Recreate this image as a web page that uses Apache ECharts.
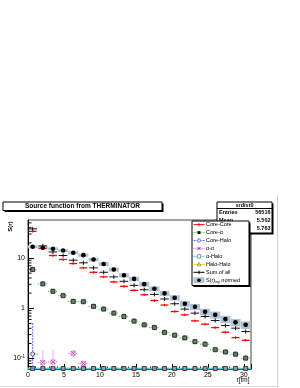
<!DOCTYPE html>
<html><head><meta charset="utf-8">
<script src="https://cdn.jsdelivr.net/npm/echarts@6/dist/echarts.min.js"></script>
<style>html,body{margin:0;padding:0;background:#fff}#c{width:300px;height:388px}</style>
</head><body><div id="c"></div>
<script>
// ---- data ----
const r = [0.65, 2.06, 3.47, 4.88, 6.29, 7.70, 9.11, 10.52, 11.93, 13.34, 14.75, 16.16, 17.57, 18.98, 20.39, 21.80, 23.21, 24.62, 26.03, 27.44, 28.85, 30.26];
const sInp = [16.7, 16.0, 15.3, 14.1, 12.7, 11.4, 9.33, 7.59, 5.89, 4.53, 3.84, 3.02, 2.45, 1.98, 1.62, 1.23, 1.07, 0.85, 0.74, 0.61, 0.525, 0.468];
const sInpErr = [1.1, 1.0, 1.0, 0.95, 0.9, 0.85, 0.75, 0.65, 0.55, 0.45, 0.4, 0.33, 0.28, 0.24, 0.2, 0.16, 0.15, 0.13, 0.12, 0.1, 0.09, 0.08];
const sumAll = [38.0, 17.4, 13.2, 11.2, 9.04, 8.02, 6.37, 5.20, 4.21, 3.44, 2.86, 2.34, 1.89, 1.53, 1.23, 0.964, 0.80, 0.686, 0.57, 0.453, 0.402, 0.344];
const coreCore = [33.9, 15.5, 11.2, 9.33, 7.76, 6.37, 5.20, 4.21, 3.34, 2.73, 2.27, 1.86, 1.43, 1.16, 0.863, 0.741, 0.562, 0.483, 0.413, 0.334, 0.261, 0.231];
const coreAlpha = [5.89, 3.05, 2.17, 1.78, 1.37, 1.35, 1.09, 0.964, 0.80, 0.686, 0.555, 0.468, 0.413, 0.331, 0.291, 0.257, 0.217, 0.193, 0.15, 0.135, 0.122, 0.102];
const coreHalo = [0.123, 0, 0, 0, 0, 0, 0, 0, 0, 0, 0, 0, 0, 0, 0, 0, 0, 0, 0, 0, 0, 0];
const coreHaloErr = [0.39, 0, 0, 0, 0, 0, 0, 0, 0, 0, 0, 0, 0, 0, 0, 0, 0, 0, 0, 0, 0, 0];
const alphaAlpha = [0, 0.084, 0.086, 0, 0.127, 0.080, 0, 0, 0, 0, 0, 0, 0, 0, 0, 0, 0, 0, 0, 0, 0, 0];
const alphaAlphaErr = [0, 0.06, 0.06, 0, 0.02, 0.01, 0, 0, 0, 0, 0, 0, 0, 0, 0, 0, 0, 0, 0, 0, 0, 0];
const alphaHalo = [0, 0, 0, 0, 0, 0, 0, 0, 0, 0, 0, 0, 0, 0, 0, 0, 0, 0, 0, 0, 0, 0];
const haloHalo = [0, 0, 0, 0, 0, 0, 0, 0, 0, 0, 0, 0, 0, 0, 0, 0, 0, 0, 0, 0, 0, 0];
const legendNames = ['Core-Core', 'Core-α', 'Core-Halo', 'α-α', 'α-Halo', 'Halo-Halo', 'Sum of all', 'S(r)_inp normed'];
const yMinorTicks = [0.07, 0.08, 0.09, 0.2, 0.3, 0.4, 0.5, 0.6, 0.7, 0.8, 0.9, 2, 3, 4, 5, 6, 7, 8, 9, 20, 30, 40, 50];
const titleText = 'Source function from THERMINATOR';
const statsTitle = 'srdist0';
const statsRows = [['Entries', '56516'], ['Mean', '5.502'], ['RMS', '5.763']];
const xTitle = 'r[fm]';
const yTitle = 'S(r)';

// ---- settings ----
const Y_MIN = 0.062, Y_MAX = 57, X_MIN = 0, X_MAX = 31;
const HALF = 0.7;
const FONT = '"Liberation Sans", Arial, Helvetica, sans-serif';
const GRID = {left: 28, right: 49, top: 220, bottom: 19};

function clampY(v) { return Math.max(v, Y_MIN); }
function pts(ys, errs) { return r.map((x, i) => [x, clampY(ys[i]), errs ? errs[i] : 0, ys[i]]); }
function ln(x1, y1, x2, y2, stroke, w, dash) {
  return {type: 'line', shape: {x1, y1, x2, y2}, style: {stroke, lineWidth: w || 1, lineDash: dash || null}};
}

const series = [];
// S(r)_inp boxes
series.push({type: 'custom', name: legendNames[7], data: pts(sInp, sInpErr), z: 2,
  renderItem: (p, api) => {
    const x = api.value(0), y = api.value(1), e = api.value(2);
    const a = api.coord([x - HALF, y + e]), b = api.coord([x + HALF, y - e]);
    return {type: 'rect', shape: {x: a[0], y: a[1], width: b[0] - a[0], height: b[1] - a[1]}, style: {fill: '#b3c3d6'}};
  }});
// Halo-Halo (zero -> bottom)
series.push({type: 'custom', name: legendNames[5], data: pts(haloHalo), z: 3,
  renderItem: (p, api) => {
    const x = api.value(0), y = api.value(1);
    const a = api.coord([x - HALF, y]), b = api.coord([x + HALF, y]);
    return ln(a[0], a[1] - 0.5, b[0], b[1] - 0.5, '#ffff00', 1.5);
  }});
// alpha-Halo (zero -> bottom)
series.push({type: 'custom', name: legendNames[4], data: pts(alphaHalo), z: 4,
  renderItem: (p, api) => {
    const x = api.value(0), y = api.value(1);
    const c = api.coord([x, y]), a = api.coord([x - HALF, y]), b = api.coord([x + HALF, y]);
    return {type: 'group', children: [
      ln(a[0], a[1] - 0.5, b[0], b[1] - 0.5, '#33ccff', 1.5),
      {type: 'rect', shape: {x: c[0] - 2, y: c[1] - 2.5, width: 4, height: 4}, style: {fill: '#999', stroke: '#222', lineWidth: 0.8}}
    ]};
  }});
// Core-Halo
series.push({type: 'custom', name: legendNames[2], data: pts(coreHalo, coreHaloErr), z: 5,
  renderItem: (p, api) => {
    if (api.value(3) <= 0) return null;
    const x = api.value(0), y = api.value(1), e = api.value(2);
    const c = api.coord([x, y]), t = api.coord([x, y + e]), bt = api.coord([x, clampY(y - e)]);
    const a = api.coord([x - HALF, y]), b = api.coord([x + HALF, y]);
    return {type: 'group', children: [
      ln(c[0], t[1], c[0], bt[1], '#6666ff', 1, [2, 1]),
      ln(a[0], c[1], b[0], c[1], '#6666ff', 1, [2, 1]),
      {type: 'circle', shape: {cx: c[0], cy: c[1], r: 2}, style: {fill: '#fff', stroke: '#333366', lineWidth: 0.8}}
    ]};
  }});
// alpha-alpha
series.push({type: 'custom', name: legendNames[3], data: pts(alphaAlpha, alphaAlphaErr), z: 5,
  renderItem: (p, api) => {
    if (api.value(3) <= 0) return null;
    const x = api.value(0), y = api.value(1), e = api.value(2);
    const c = api.coord([x, y]), t = api.coord([x, y + e]), bt = api.coord([x, clampY(y - e)]);
    const a = api.coord([x - HALF, y]), b = api.coord([x + HALF, y]);
    return {type: 'group', children: [
      ln(c[0], t[1], c[0], bt[1], '#ff44ff', 1, [1, 1]),
      ln(a[0], c[1], b[0], c[1], '#ff44ff', 1, [1, 1]),
      {type: 'rect', shape: {x: c[0] - 2, y: c[1] - 2, width: 4, height: 4}, style: {fill: '#fff', stroke: '#888', lineWidth: 0.6}},
      ln(c[0] - 2, c[1] - 2, c[0] + 2, c[1] + 2, '#cc00cc', 0.8),
      ln(c[0] - 2, c[1] + 2, c[0] + 2, c[1] - 2, '#cc00cc', 0.8)
    ]};
  }});
// Core-alpha
series.push({type: 'custom', name: legendNames[1], data: pts(coreAlpha), z: 6,
  renderItem: (p, api) => {
    const x = api.value(0), y = api.value(1);
    const c = api.coord([x, y]), a = api.coord([x - HALF, y]), b = api.coord([x + HALF, y]);
    return {type: 'group', children: [
      ln(a[0], c[1], b[0], c[1], '#22dd22', 1.2, [1, 1]),
      ln(c[0], c[1] - 3, c[0], c[1] + 3, '#22dd22', 1, [1, 1]),
      {type: 'rect', shape: {x: c[0] - 2, y: c[1] - 2, width: 4, height: 4}, style: {fill: '#777', stroke: '#111', lineWidth: 0.8}}
    ]};
  }});
// Core-Core
series.push({type: 'custom', name: legendNames[0], data: pts(coreCore), z: 7,
  renderItem: (p, api) => {
    const x = api.value(0), y = api.value(1);
    const c = api.coord([x, y]), a = api.coord([x - 0.55, y]), b = api.coord([x + 0.55, y]);
    return {type: 'group', children: [
      ln(a[0], c[1], b[0], c[1], '#ff0000', 1.3),
      ln(c[0], c[1] - 1.3, c[0], c[1] + 1.3, '#ff0000', 1)
    ]};
  }});
// Sum of all
series.push({type: 'custom', name: legendNames[6], data: pts(sumAll), z: 8,
  renderItem: (p, api) => {
    const x = api.value(0), y = api.value(1);
    const c = api.coord([x, y]), a = api.coord([x - 0.6, y]), b = api.coord([x + 0.6, y]);
    return {type: 'group', children: [
      ln(a[0], c[1], b[0], c[1], '#111', 1),
      ln(c[0], c[1] - 2, c[0], c[1] + 2, '#111', 1)
    ]};
  }});
// S(r)_inp dots
series.push({type: 'custom', name: legendNames[7] + ' pts', data: pts(sInp), z: 9,
  renderItem: (p, api) => {
    const c = api.coord([api.value(0), api.value(1)]);
    return {type: 'circle', shape: {cx: c[0], cy: c[1], r: 2.3}, style: {fill: '#000'}};
  }});
// y minor ticks (log)
series.push({type: 'custom', name: 'yminor', data: yMinorTicks.map(v => [X_MIN, v]), z: 10, silent: true,
  renderItem: (p, api) => {
    const c = api.coord([api.value(0), api.value(1)]);
    return ln(c[0], c[1], c[0] + 3.5, c[1], '#000', 1);
  }});

// ---- legend / boxes (graphic) ----
const g = [];
// canvas edge lines
g.push({type: 'line', shape: {x1: 277.5, y1: 195, x2: 277.5, y2: 388}, style: {stroke: '#d0d0d0', lineWidth: 1}, z: 1});
g.push({type: 'line', shape: {x1: 0, y1: 386.5, x2: 278, y2: 386.5}, style: {stroke: '#d8d8d8', lineWidth: 1}, z: 1});
// title box
g.push({type: 'rect', shape: {x: 4.5, y: 203.5, width: 159, height: 8.5}, style: {fill: '#000'}, z: 20});
g.push({type: 'rect', shape: {x: 3, y: 202, width: 159, height: 8.5}, style: {fill: '#fff', stroke: '#000', lineWidth: 1}, z: 21});
g.push({type: 'text', x: 82.5, y: 206.5, style: {text: titleText, font: 'bold 6.5px ' + FONT, fill: '#000', align: 'center', verticalAlign: 'middle'}, z: 22});
// stats box
g.push({type: 'rect', shape: {x: 218.5, y: 203.5, width: 55, height: 31}, style: {fill: '#000'}, z: 20});
g.push({type: 'rect', shape: {x: 217, y: 202, width: 55, height: 31}, style: {fill: '#fff', stroke: '#000', lineWidth: 1}, z: 21});
g.push({type: 'text', x: 244.5, y: 205.3, style: {text: statsTitle, font: 'bold 5.5px ' + FONT, fill: '#000', align: 'center', verticalAlign: 'middle'}, z: 22});
g.push({type: 'line', shape: {x1: 217, y1: 208.5, x2: 272, y2: 208.5}, style: {stroke: '#000', lineWidth: 1}, z: 22});
statsRows.forEach((row, i) => {
  const yy = 212.8 + i * 7.6;
  g.push({type: 'text', x: 219, y: yy, style: {text: row[0], font: 'bold 5.5px ' + FONT, fill: '#000', align: 'left', verticalAlign: 'middle'}, z: 22});
  g.push({type: 'text', x: 270.5, y: yy, style: {text: row[1], font: 'bold 5.5px ' + FONT, fill: '#000', align: 'right', verticalAlign: 'middle'}, z: 22});
});
// legend box
g.push({type: 'rect', shape: {x: 193.5, y: 222.5, width: 57, height: 64.5}, style: {fill: '#000'}, z: 30});
g.push({type: 'rect', shape: {x: 192, y: 221, width: 57, height: 64.5}, style: {fill: '#fff', stroke: '#000', lineWidth: 1}, z: 31});
const LX1 = 193.5, LX2 = 204.5, LM = 199, LT = 206;
legendNames.forEach((name, i) => {
  const yy = 224.6 + i * 7.95;
  const z = 32;
  if (i === 0) { g.push({type: 'line', shape: {x1: LX1, y1: yy, x2: LX2, y2: yy}, style: {stroke: '#ff0000', lineWidth: 1}, z}); g.push({type: 'line', shape: {x1: LM, y1: yy - 1.5, x2: LM, y2: yy + 1.5}, style: {stroke: '#ff0000', lineWidth: 1}, z}); }
  if (i === 1) { g.push({type: 'line', shape: {x1: LX1, y1: yy, x2: LX2, y2: yy}, style: {stroke: '#22dd22', lineWidth: 1, lineDash: [1, 1]}, z}); g.push({type: 'rect', shape: {x: LM - 1.5, y: yy - 1.5, width: 3, height: 3}, style: {fill: '#111'}, z: z + 1}); }
  if (i === 2) { g.push({type: 'line', shape: {x1: LX1, y1: yy, x2: LX2, y2: yy}, style: {stroke: '#6666ff', lineWidth: 1, lineDash: [2, 1]}, z}); g.push({type: 'circle', shape: {cx: LM, cy: yy, r: 1.6}, style: {fill: '#fff', stroke: '#444499', lineWidth: 0.7}, z: z + 1}); }
  if (i === 3) { g.push({type: 'line', shape: {x1: LX1, y1: yy, x2: LX2, y2: yy}, style: {stroke: '#ff44ff', lineWidth: 1, lineDash: [1, 1]}, z}); g.push({type: 'line', shape: {x1: LM - 1.5, y1: yy - 1.5, x2: LM + 1.5, y2: yy + 1.5}, style: {stroke: '#880088', lineWidth: 0.8}, z: z + 1}); g.push({type: 'line', shape: {x1: LM - 1.5, y1: yy + 1.5, x2: LM + 1.5, y2: yy - 1.5}, style: {stroke: '#880088', lineWidth: 0.8}, z: z + 1}); }
  if (i === 4) { g.push({type: 'line', shape: {x1: LX1, y1: yy, x2: LX2, y2: yy}, style: {stroke: '#33ccff', lineWidth: 1, lineDash: [2, 1]}, z}); g.push({type: 'rect', shape: {x: LM - 1.7, y: yy - 1.7, width: 3.4, height: 3.4}, style: {fill: '#fff', stroke: '#666', lineWidth: 0.7}, z: z + 1}); }
  if (i === 5) { g.push({type: 'line', shape: {x1: LX1, y1: yy, x2: LX2, y2: yy}, style: {stroke: '#dddd00', lineWidth: 1}, z}); g.push({type: 'polygon', shape: {points: [[LM, yy - 2], [LM - 2, yy + 1.5], [LM + 2, yy + 1.5]]}, style: {fill: 'none', stroke: '#777', lineWidth: 0.7}, z: z + 1}); }
  if (i === 6) { g.push({type: 'line', shape: {x1: LX1, y1: yy, x2: LX2, y2: yy}, style: {stroke: '#000', lineWidth: 1}, z}); g.push({type: 'line', shape: {x1: LM, y1: yy - 1.8, x2: LM, y2: yy + 1.8}, style: {stroke: '#000', lineWidth: 1}, z}); }
  if (i === 7) { g.push({type: 'rect', shape: {x: LX1, y: yy - 3, width: LX2 - LX1, height: 6}, style: {fill: '#b3c3d6'}, z}); g.push({type: 'circle', shape: {cx: LM, cy: yy, r: 1.8}, style: {fill: '#000'}, z: z + 1}); }
  let txt, rich;
  if (name.indexOf('_') >= 0) {
    const parts = name.split('_');
    const sub = parts[1].split(' ');
    txt = '{n|' + parts[0] + '}{s|' + sub[0] + '}{n| ' + sub.slice(1).join(' ') + '}';
    rich = {n: {font: '5.5px ' + FONT, fill: '#000'}, s: {font: '3.5px ' + FONT, fill: '#000', padding: [3, 0, 0, 0]}};
  } else { txt = name; }
  g.push({type: 'text', x: LT, y: yy, style: {text: txt, rich: rich, font: '5.5px ' + FONT, fill: '#000', align: 'left', verticalAlign: 'middle'}, z: z + 2});
});
// axis titles
g.push({type: 'text', x: 10, y: 221.5, rotation: Math.PI / 2, style: {text: yTitle, font: 'bold 6px ' + FONT, fill: '#000', align: 'right', verticalAlign: 'middle'}, z: 20});
g.push({type: 'text', x: 249.5, y: 380, style: {text: xTitle, font: '6.5px ' + FONT, fill: '#000', align: 'right', verticalAlign: 'middle'}, z: 20});

const option = {
  animation: false,
  backgroundColor: '#fff',
  grid: {left: GRID.left, right: GRID.right, top: GRID.top, bottom: GRID.bottom, show: true, borderColor: '#444', borderWidth: 1, backgroundColor: 'transparent'},
  xAxis: {type: 'value', min: X_MIN, max: X_MAX, interval: 5,
    axisLine: {lineStyle: {color: '#000', width: 1}},
    axisTick: {inside: true, length: 5, lineStyle: {color: '#000'}},
    minorTick: {show: true, splitNumber: 5, length: 2.5, lineStyle: {color: '#000'}},
    splitLine: {show: false},
    axisLabel: {fontSize: 7, color: '#000', margin: 3, fontFamily: FONT, showMaxLabel: false}},
  yAxis: {type: 'log', logBase: 10, min: Y_MIN, max: Y_MAX,
    axisLine: {lineStyle: {color: '#000', width: 1}},
    axisTick: {inside: true, length: 6, lineStyle: {color: '#000'}},
    splitLine: {show: false},
    axisLabel: {color: '#000', margin: 3, fontFamily: FONT, fontSize: 7, showMinLabel: false, showMaxLabel: false,
      formatter: v => (Math.abs(v - 0.1) < 1e-9 ? '{a|10}{b|-1}' : (Math.abs(v - 1) < 1e-9 ? '1' : (Math.abs(v - 10) < 1e-9 ? '10' : ''))),
      rich: {a: {fontSize: 7, fontFamily: FONT, color: '#000'}, b: {fontSize: 4.5, fontFamily: FONT, color: '#000', padding: [0, 0, 4, 0]}}}},
  series: series,
  graphic: {elements: g}
};
const chart = echarts.init(document.getElementById('c'));
chart.setOption(option);
</script>
</body></html>
